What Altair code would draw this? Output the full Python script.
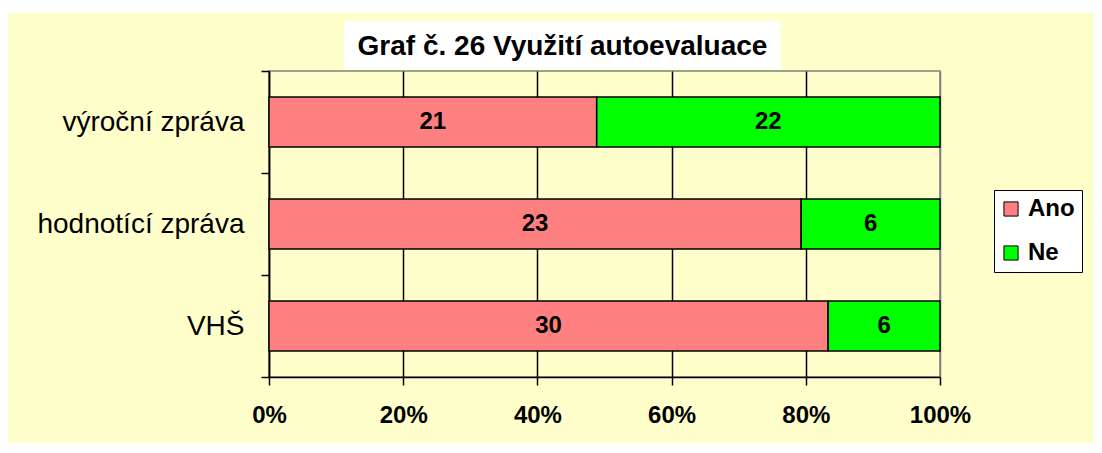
import altair as alt
import pandas as pd

categories = ["výroční zpráva", "hodnotící zpráva", "VHŠ"]
series = ["Ano", "Ne"]
ano_values = [21, 23, 30]
ne_values = [22, 6, 6]
x_ticks = [0, 0.2, 0.4, 0.6, 0.8, 1.0]
title_text = "Graf č. 26 Využití autoevaluace"

rows = []
for c, a, n in zip(categories, ano_values, ne_values):
    rows.append({"kategorie": c, "odpoved": "Ano", "pocet": a, "poradi": 0})
    rows.append({"kategorie": c, "odpoved": "Ne", "pocet": n, "poradi": 1})
df = pd.DataFrame(rows)

FONT = "Liberation Sans"
YELLOW = "#FFFFCC"
W, H = 671, 306

base = alt.Chart(df)

ysc = alt.Scale(domain=categories, paddingInner=0, paddingOuter=0)

bars = base.mark_bar(stroke="black", strokeWidth=1.5,
                     height=alt.RelativeBandSize(0.49)).encode(
    y=alt.Y("kategorie:N", sort=categories, scale=ysc,
            axis=alt.Axis(title=None, labelFont=FONT, labelFontSize=28,
                          labelColor="black", labelPadding=17, labelLimit=0,
                          tickBand="extent", tickSize=8, tickColor="black",
                          tickWidth=1.5, domainColor="black", domainWidth=1.5,
                          grid=False)),
    x=alt.X("pocet:Q", stack="normalize",
            scale=alt.Scale(domain=[0, 1], nice=False),
            axis=alt.Axis(title=None, values=x_ticks, format=".0%",
                          labelFont=FONT, labelFontSize=24, labelFontWeight="bold",
                          labelColor="black", labelPadding=18, labelFlush=False,
                          labelOverlap=False,
                          tickSize=8, tickColor="black", tickWidth=1.5,
                          domainColor="black", domainWidth=1.5,
                          grid=True,
                          gridColor={"condition": {"test": "datum.value >= 1", "value": "#808080"}, "value": "black"},
                          gridWidth=1.5)),
    fill=alt.Fill("odpoved:N",
                  scale=alt.Scale(domain=series, range=["#FF8080", "#00FF00"]),
                  legend=alt.Legend(title=None, orient="none", legendX=725, legendY=119,
                                    fillColor="white", strokeColor="black", padding=7,
                                    symbolType="square", symbolSize=200, symbolOffset=-2,
                                    symbolStrokeColor="black", symbolStrokeWidth=1,
                                    labelFont=FONT, labelFontSize=24, labelFontWeight="bold",
                                    labelColor="black", labelOffset=5, rowPadding=20)),
    order=alt.Order("poradi:Q"),
)

labels = base.transform_stack(
    stack="pocet", groupby=["kategorie"], as_=["v0", "v1"],
    offset="normalize", sort=[alt.SortField("poradi", order="ascending")]
).transform_calculate(
    mid="(datum.v0 + datum.v1) / 2"
).mark_text(font=FONT, fontSize=24, fontWeight="bold", color="black",
            baseline="middle", align="center").encode(
    y=alt.Y("kategorie:N", sort=categories, scale=ysc),
    x=alt.X("mid:Q"),
    text="pocet:Q",
)

deco = alt.Chart(alt.Data(values=[{}]))
top_strip = deco.mark_rect(color="white").encode(
    x=alt.value(-261), x2=alt.value(825), y=alt.value(-63), y2=alt.value(-58))
title_box = deco.mark_rect(color="white").encode(
    x=alt.value(75), x2=alt.value(512), y=alt.value(-50), y2=alt.value(-2))
title_mark = deco.mark_text(font=FONT, fontSize=28, fontWeight="bold", color="black",
                            align="center", baseline="middle").encode(
    x=alt.value(293.5), y=alt.value(-24), text=alt.value(title_text))

chart = alt.layer(top_strip, title_box, bars, labels, title_mark).properties(
    width=W, height=H,
    autosize=alt.AutoSizeParams(type="none"),
    padding={"left": 261, "top": 63, "right": 154, "bottom": 66},
    background=YELLOW,
).configure_view(stroke="#808080", strokeWidth=1.5)

chart.save("out.html", embed_options={"renderer": "svg", "actions": False})
